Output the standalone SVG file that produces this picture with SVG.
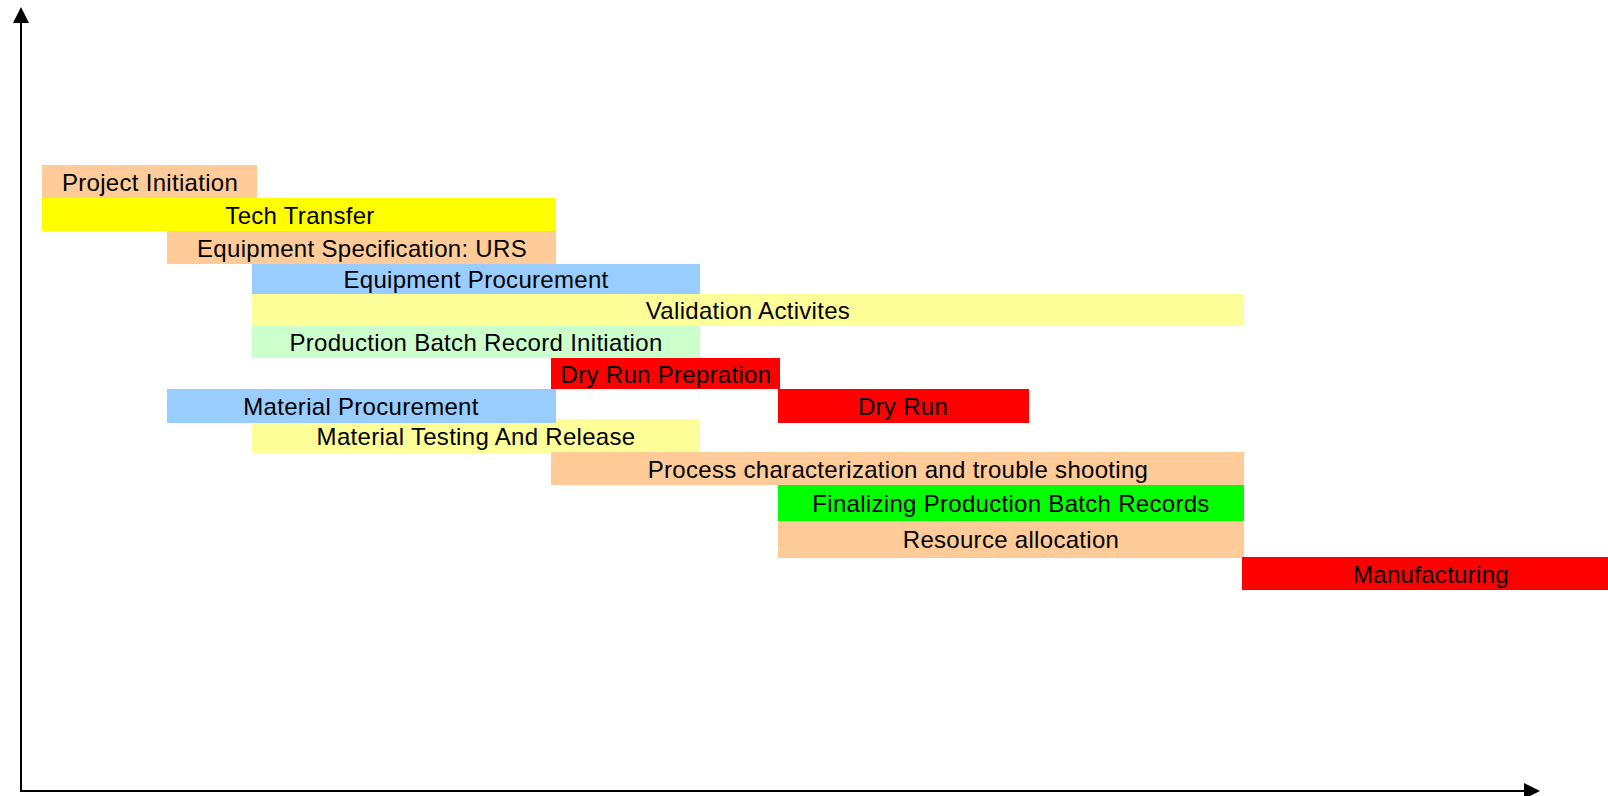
<svg xmlns="http://www.w3.org/2000/svg" width="1608" height="796" viewBox="0 0 1608 796">
  <style>
    .lbl { font-family: "Liberation Sans", Arial, sans-serif; font-size: 24px; letter-spacing: 0.3px; fill: #000; text-anchor: middle; }
    .axis { stroke: #000; stroke-width: 2; fill: none; }
    .peach { fill: #FFCC99; }
    .yellow { fill: #FFFF00; }
    .blue { fill: #99CCFF; }
    .paleyellow { fill: #FFFF99; }
    .palegreen { fill: #CCFFCC; }
    .red { fill: #FF0000; }
    .green { fill: #00FF00; }
  </style>
  <defs>
    <marker id="arrow" viewBox="0 0 16 16" refX="0" refY="8" markerWidth="16" markerHeight="16" markerUnits="userSpaceOnUse" orient="auto">
      <path d="M0,0 L16,8 L0,16 Z" fill="#000"/>
    </marker>
  </defs>
  <rect width="1608" height="796" fill="#fff"/>

  <!-- axes -->
  <g id="connectors">
    <line class="axis" x1="21" y1="792" x2="21" y2="23" marker-end="url(#arrow)"/>
    <line class="axis" x1="20" y1="791" x2="1524" y2="791" marker-end="url(#arrow)"/>
  </g>

  <!-- schedule bars -->
  <g id="project-initiation">
    <rect class="peach" x="42" y="165" width="215" height="33"/>
    <text class="lbl" x="150" y="191">Project Initiation</text>
  </g>
  <g id="tech-transfer">
    <rect class="yellow" x="42" y="198" width="514" height="33"/>
    <text class="lbl" x="300" y="224">Tech Transfer</text>
  </g>
  <g id="equipment-specification">
    <rect class="peach" x="167" y="231" width="389" height="33"/>
    <text class="lbl" x="362" y="257">Equipment Specification: URS</text>
  </g>
  <g id="equipment-procurement">
    <rect class="blue" x="252" y="264" width="448" height="30"/>
    <text class="lbl" x="476" y="288">Equipment Procurement</text>
  </g>
  <g id="validation-activities">
    <rect class="paleyellow" x="252" y="294" width="992" height="32"/>
    <text class="lbl" x="748" y="319">Validation Activites</text>
  </g>
  <g id="production-batch-record-initiation">
    <rect class="palegreen" x="252" y="326" width="448" height="32"/>
    <text class="lbl" x="476" y="351">Production Batch Record Initiation</text>
  </g>
  <g id="dry-run-prepration">
    <rect class="red" x="551" y="358" width="229" height="31"/>
    <text class="lbl" x="666" y="383">Dry Run Prepration</text>
  </g>
  <g id="material-testing">
    <rect class="paleyellow" x="252" y="419" width="448" height="34"/>
    <text class="lbl" x="476" y="445">Material Testing And Release</text>
  </g>
  <g id="material-procurement">
    <rect class="blue" x="167" y="389" width="389" height="34"/>
    <text class="lbl" x="361" y="415">Material Procurement</text>
  </g>
  <g id="dry-run">
    <rect class="red" x="778" y="389" width="251" height="34"/>
    <text class="lbl" x="903" y="415">Dry Run</text>
  </g>
  <g id="process-characterization">
    <rect class="peach" x="551" y="452" width="693" height="33"/>
    <text class="lbl" x="898" y="478">Process characterization and trouble shooting</text>
  </g>
  <g id="finalizing-batch-records">
    <rect class="green" x="778" y="485" width="466" height="36"/>
    <text class="lbl" x="1011" y="512">Finalizing Production Batch Records</text>
  </g>
  <g id="resource-allocation">
    <rect class="peach" x="778" y="521" width="466" height="37"/>
    <text class="lbl" x="1011" y="548">Resource allocation</text>
  </g>
  <g id="manufacturing">
    <rect class="red" x="1242" y="557" width="380" height="33"/>
    <text class="lbl" x="1431" y="583">Manufacturing</text>
  </g>
</svg>
